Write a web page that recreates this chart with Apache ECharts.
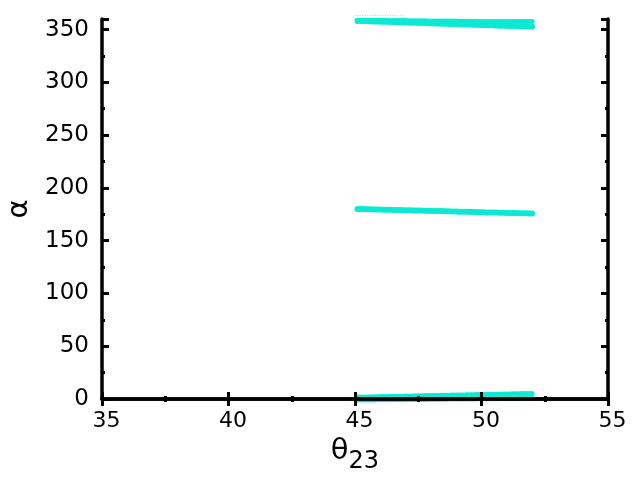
<!DOCTYPE html>
<html>
<head>
<meta charset="utf-8">
<script src="https://cdn.jsdelivr.net/npm/echarts@6/dist/echarts.min.js"></script>
<style>
  html, body { margin: 0; padding: 0; background: #fff; }
  #chart { width: 640px; height: 480px; }
</style>
</head>
<body>
<div id="chart"></div>
<script>
// theta23 sample positions (deg)
var theta = [45.1, 45.2, 45.3, 45.4, 45.5, 45.6, 45.7, 45.8, 45.9, 46.0,
             46.1, 46.2, 46.3, 46.4, 46.5, 46.6, 46.7, 46.8, 46.9, 47.0,
             47.1, 47.2, 47.3, 47.4, 47.5, 47.6, 47.7, 47.8, 47.9, 48.0,
             48.1, 48.2, 48.3, 48.4, 48.5, 48.6, 48.7, 48.8, 48.9, 49.0,
             49.1, 49.2, 49.3, 49.4, 49.5, 49.6, 49.7, 49.8, 49.9, 50.0,
             50.1, 50.2, 50.3, 50.4, 50.5, 50.6, 50.7, 50.8, 50.9, 51.0,
             51.1, 51.2, 51.3, 51.4, 51.5, 51.6, 51.7, 51.8, 51.9, 52.0];
// alpha near 360 (upper / lower edge of the band)
var alphaTopUpper = [358.9, 358.9, 358.9, 358.9, 358.8, 358.8, 358.8, 358.8, 358.7, 358.7,
                     358.7, 358.7, 358.6, 358.6, 358.6, 358.6, 358.5, 358.5, 358.5, 358.5,
                     358.4, 358.4, 358.4, 358.4, 358.3, 358.3, 358.3, 358.3, 358.2, 358.2,
                     358.2, 358.2, 358.1, 358.1, 358.1, 358.1, 358.0, 358.0, 358.0, 358.0,
                     357.9, 357.9, 357.9, 357.9, 357.8, 357.8, 357.8, 357.8, 357.7, 357.7,
                     357.7, 357.7, 357.7, 357.6, 357.6, 357.6, 357.6, 357.6, 357.6, 357.6,
                     357.6, 357.6, 357.6, 357.6, 357.6, 357.6, 357.6, 357.6, 357.6, 357.6];
var alphaTopLower = [358.2, 358.1, 358.0, 358.0, 357.9, 357.8, 357.7, 357.6, 357.6, 357.5,
                     357.4, 357.3, 357.3, 357.2, 357.1, 357.0, 356.9, 356.9, 356.8, 356.7,
                     356.6, 356.5, 356.5, 356.4, 356.3, 356.2, 356.1, 356.1, 356.0, 355.9,
                     355.8, 355.7, 355.7, 355.6, 355.5, 355.4, 355.3, 355.3, 355.2, 355.1,
                     355.0, 354.9, 354.9, 354.8, 354.7, 354.6, 354.5, 354.5, 354.4, 354.3,
                     354.2, 354.1, 354.1, 354.0, 353.9, 353.8, 353.7, 353.7, 353.6, 353.5,
                     353.4, 353.3, 353.3, 353.2, 353.1, 353.0, 353.0, 352.9, 352.9, 352.8];
// a few stray points just above 360
var thetaStray = [45.0, 45.1, 45.2, 45.3, 45.4, 45.5, 45.6, 45.7, 45.8, 45.9,
                  46.0, 46.1, 46.2, 46.3, 46.4, 46.5, 46.6, 46.7, 46.8, 46.9];
var alphaStray = [363.4, 363.4, 363.4, 363.4, 363.3, 363.3, 363.3, 363.3, 363.3, 363.3,
                  363.3, 363.2, 363.2, 363.2, 363.2, 363.2, 363.2, 363.1, 363.1, 363.1];
// alpha near 180
var alphaMid = [180.0, 179.9, 179.9, 179.8, 179.8, 179.7, 179.6, 179.6, 179.5, 179.5,
                179.4, 179.3, 179.3, 179.2, 179.1, 179.1, 179.0, 179.0, 178.9, 178.8,
                178.8, 178.7, 178.6, 178.6, 178.5, 178.5, 178.4, 178.3, 178.3, 178.2,
                178.1, 178.1, 178.0, 178.0, 177.9, 177.8, 177.8, 177.7, 177.7, 177.6,
                177.5, 177.5, 177.4, 177.3, 177.3, 177.2, 177.2, 177.1, 177.0, 177.0,
                176.9, 176.8, 176.8, 176.7, 176.7, 176.6, 176.5, 176.5, 176.4, 176.3,
                176.3, 176.2, 176.2, 176.1, 176.0, 176.0, 175.9, 175.9, 175.8, 175.7];
// alpha near 0 (upper / lower edge of the band)
var alphaLowUpper = [1.8, 1.9, 1.9, 2.0, 2.0, 2.1, 2.1, 2.2, 2.2, 2.3,
                     2.3, 2.4, 2.4, 2.5, 2.5, 2.6, 2.6, 2.7, 2.7, 2.8,
                     2.8, 2.9, 2.9, 3.0, 3.0, 3.1, 3.1, 3.2, 3.2, 3.3,
                     3.3, 3.4, 3.4, 3.5, 3.5, 3.6, 3.6, 3.7, 3.7, 3.8,
                     3.8, 3.9, 3.9, 4.0, 4.0, 4.1, 4.1, 4.2, 4.2, 4.3,
                     4.3, 4.4, 4.4, 4.5, 4.5, 4.6, 4.6, 4.7, 4.7, 4.8,
                     4.8, 4.9, 4.9, 5.0, 5.0, 5.1, 5.1, 5.1, 5.2, 5.2];
var alphaLowLower = [-1.0, -1.0, -1.0, -1.0, -0.9, -0.9, -0.9, -0.9, -0.8, -0.8,
                     -0.8, -0.8, -0.7, -0.7, -0.7, -0.7, -0.6, -0.6, -0.6, -0.6,
                     -0.5, -0.5, -0.5, -0.5, -0.4, -0.4, -0.4, -0.4, -0.3, -0.3,
                     -0.3, -0.3, -0.2, -0.2, -0.2, -0.2, -0.1, -0.1, -0.1, -0.1,
                     0.0, 0.0, 0.0, 0.0, 0.1, 0.1, 0.1, 0.1, 0.2, 0.2,
                     0.2, 0.2, 0.3, 0.3, 0.3, 0.3, 0.4, 0.4, 0.4, 0.4,
                     0.5, 0.5, 0.5, 0.5, 0.6, 0.6, 0.6, 0.6, 0.6, 0.6];

var xTicks = [35, 40, 45, 50, 55];
var yTicks = [0, 50, 100, 150, 200, 250, 300, 350];

var cyan = '#0ce9d2';
var font = 'DejaVu Sans';

function pairs(xs, ys) {
  return xs.map(function (t, i) { return [t, ys[i]]; });
}
function band(xs, ys, size, opacity) {
  return {
    type: 'scatter',
    data: pairs(xs, ys),
    symbol: 'circle',
    symbolSize: size,
    clip: false,
    itemStyle: { color: cyan, opacity: opacity || 1 },
    silent: true
  };
}

var axisBase = {
  z: 10,
  axisLine: { show: true, lineStyle: { color: '#000', width: 3.5 } },
  axisTick: { show: true, inside: true, length: 7, lineStyle: { color: '#000', width: 3 } },
  minorTick: { show: true, splitNumber: 2, length: 3, lineStyle: { color: '#000', width: 3 } },
  splitLine: { show: false }
};

var chart = echarts.init(document.getElementById('chart'));
chart.setOption({
  animation: false,
  backgroundColor: '#fff',
  grid: { left: 102, right: 32, top: 19, bottom: 81, containLabel: false, outerBoundsMode: 'none' },
  xAxis: [
    Object.assign({
      type: 'value', min: xTicks[0], max: xTicks[xTicks.length - 1], interval: 5,
      position: 'bottom',
      name: '{b|θ}{s|23}', nameLocation: 'middle', nameGap: 28,
      nameTextStyle: {
        rich: {
          b: { fontFamily: font, fontSize: 29, color: '#000' },
          s: { fontFamily: font, fontSize: 24, color: '#000', verticalAlign: 'bottom', padding: [20, 0, 0, 0] }
        }
      },
      axisLabel: { fontFamily: font, fontSize: 22, color: '#000', margin: 11, padding: [0, 0, 0, 9] }
    }, axisBase),
    Object.assign({
      type: 'value', min: xTicks[0], max: xTicks[xTicks.length - 1], interval: 5,
      position: 'top', axisLabel: { show: false }
    }, axisBase)
  ],
  yAxis: [
    Object.assign({
      type: 'value', min: 0, max: 360, interval: 50,
      position: 'left',
      name: 'α', nameLocation: 'middle', nameGap: 44, nameRotate: 90,
      nameTextStyle: { fontFamily: font, fontSize: 29, color: '#000' },
      axisLabel: {
        fontFamily: font, fontSize: 23, color: '#000', margin: 13,
        showMaxLabel: false
      }
    }, axisBase),
    Object.assign({
      type: 'value', min: 0, max: 360, interval: 50,
      position: 'right', axisLabel: { show: false }
    }, axisBase)
  ],
  series: [
    band(thetaStray, alphaStray, 1.5, 0.45),
    band(theta, alphaTopUpper, 5),
    band(theta, alphaTopLower, 6),
    band(theta, alphaMid, 6),
    band(theta, alphaLowUpper, 5),
    band(theta, alphaLowLower, 5)
  ]
});
</script>
</body>
</html>
